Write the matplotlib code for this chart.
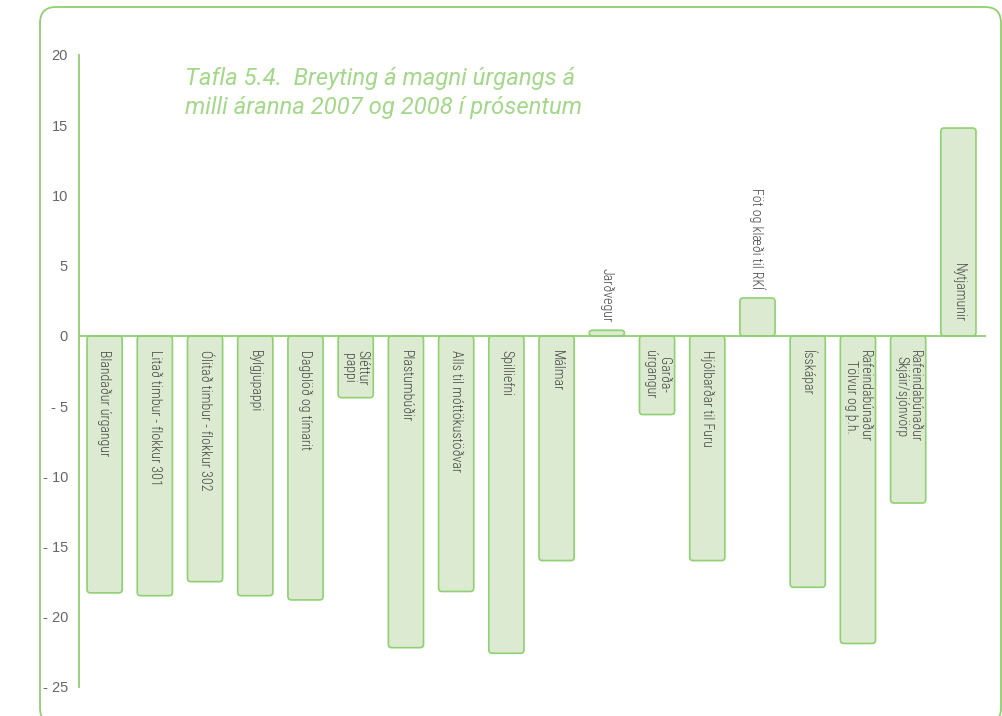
import matplotlib
matplotlib.use("Agg")
import matplotlib.pyplot as plt
from matplotlib.patches import FancyBboxPatch
from matplotlib import font_manager

categories = [
    "Blandaður úrgangur",
    "Litað timbur - flokkur 301",
    "Ólitað timbur - flokkur 302",
    "Bylgjupappi",
    "Dagblöð og tímarit",
    "Sléttur\npappi",
    "Plastumbúðir",
    "Alls til móttökustöðvar",
    "Spilliefni",
    "Málmar",
    "Jarðvegur",
    "Garða-\núrgangur",
    "Hjólbarðar til Furu",
    "Föt og klæði til RKÍ",
    "Ísskápar",
    "Rafeindabúnaður\nTölvur og þ.h.",
    "Rafeindabúnaður\nSkjáir/sjónvörp",
    "Nytjamunir",
]
values = [-18.3, -18.5, -17.5, -18.5, -18.8, -4.4, -22.2, -18.2, -22.6, -16.0,
          0.4, -5.6, -16.0, 2.7, -17.9, -21.9, -11.9, 14.8]
yticks = [20, 15, 10, 5, 0, -5, -10, -15, -20, -25]
ytick_labels = ["20", "15", "10", "5", "0", "- 5", "- 10", "- 15", "- 20", "- 25"]
title = "Tafla 5.4.  Breyting á magni úrgangs á\nmilli áranna 2007 og 2008 í prósentum"


def pick_font(names):
    for n in names:
        try:
            font_manager.findfont(font_manager.FontProperties(family=n), fallback_to_default=False)
            return n
        except Exception:
            continue
    return "DejaVu Sans"


label_font = pick_font(["Roboto Condensed", "Liberation Sans Narrow", "Roboto", "Liberation Sans"])
title_font = pick_font(["Roboto", "Liberation Sans"])

GREEN_EDGE = "#8fd070"
BAR_FACE = "#dbead0"
TITLE_COL = "#a3d888"
TEXT_COL = "#444444"
TICK_COL = "#666666"

W, H = 1003, 716
fig = plt.figure(figsize=(W / 100, H / 100), dpi=100)
fig.patch.set_facecolor("white")

# rounded frame around the chart (figure pixel coordinates)
frame = FancyBboxPatch((40 / W, 1 - 724 / H), (1001 - 40) / W, (724 - 7) / H,
                       boxstyle="round,pad=0,rounding_size=%f" % (16 / W),
                       mutation_aspect=W / H, transform=fig.transFigure,
                       facecolor="none", edgecolor=GREEN_EDGE, linewidth=1.3,
                       clip_on=False)
fig.patches.append(frame)

ax = fig.add_axes([79 / W, 1 - 687 / H, (986 - 79) / W, (687 - 55) / H])
ax.set_facecolor("none")

x = list(range(len(categories)))
bars = ax.bar(x, values, width=0.7, color=BAR_FACE, edgecolor=GREEN_EDGE)

ax.set_xlim(-0.51, len(categories) - 1 + 0.55)
ax.set_ylim(-25, 20)

# replace bars with rounded-corner versions using the bar geometry
px_per_x = (986 - 79) / (ax.get_xlim()[1] - ax.get_xlim()[0])
px_per_y = (687 - 55) / 45.0
for b in bars:
    bx, by, bw, bh = b.get_x(), b.get_y(), b.get_width(), b.get_height()
    y0 = min(by, by + bh)
    hh = abs(bh)
    b.set_visible(False)
    r = min(3.5 / px_per_x, hh * px_per_y / px_per_x / 2.0)
    p = FancyBboxPatch((bx, y0), bw, hh,
                       boxstyle="round,pad=0,rounding_size=%f" % r,
                       mutation_aspect=px_per_x / px_per_y,
                       facecolor=BAR_FACE, edgecolor=GREEN_EDGE, linewidth=1.2,
                       zorder=2)
    ax.add_patch(p)

ax.axhline(0, color=GREEN_EDGE, linewidth=1.3, zorder=3)

for s in ["top", "right", "bottom"]:
    ax.spines[s].set_visible(False)
ax.spines["left"].set_color(GREEN_EDGE)
ax.spines["left"].set_linewidth(1.3)
ax.set_xticks([])
ax.set_yticks(yticks)
ax.set_yticklabels(ytick_labels, color=TICK_COL, fontsize=10.5, family="Liberation Sans")
ax.tick_params(axis="y", length=0, pad=8)

# bar labels
lab_kw = dict(textcoords="offset points", rotation=270, ha="center", fontsize=10,
              family=label_font, fontweight="light", color=TEXT_COL,
              linespacing=0.95, zorder=4)
for xi, v, lab in zip(x, values, categories):
    if v < 0:
        ax.annotate(lab, (xi, 0), xytext=(0, -10.5), va="top", **lab_kw)
    elif v < 5:
        ax.annotate(lab, (xi, v), xytext=(0, 6), va="bottom", **lab_kw)
    else:
        ax.annotate(lab, (xi, 0), xytext=(0, 10), va="bottom", **lab_kw)

fig.text(185 / W, 1 - 67 / H, title, ha="left", va="top", fontsize=17.2,
         family=title_font, style="italic", fontweight="normal", color=TITLE_COL,
         linespacing=1.33)

fig.savefig("out.png", dpi=100)
